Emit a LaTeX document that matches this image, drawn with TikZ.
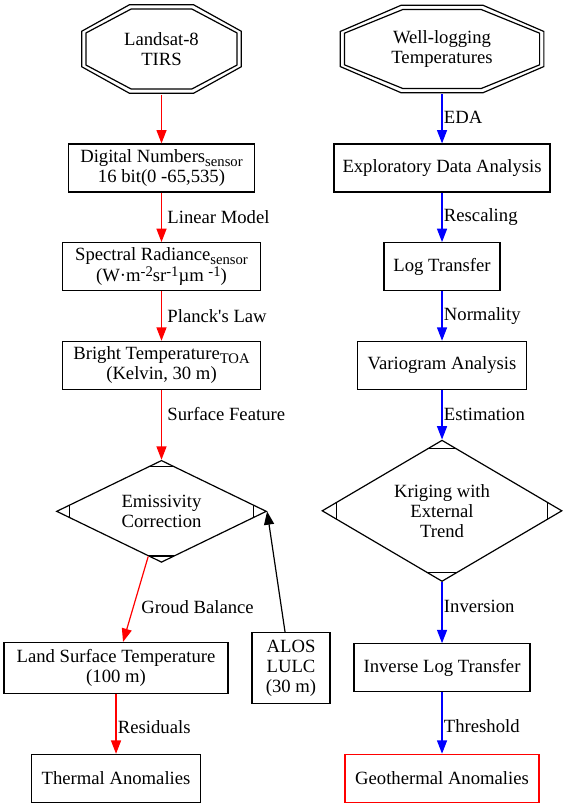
\documentclass[tikz,border=0pt]{standalone}
\usepackage{fontspec}
\setmainfont{Liberation Serif}
\usetikzlibrary{calc,shapes.geometric,arrows.meta}

% double octagon, drawn inside the node box
\newcommand{\octpath}[1]{%
  \coordinate (octnw) at ([shift={(#1,-#1)}]path picture bounding box.north west);
  \coordinate (octse) at ([shift={(-#1,#1)}]path picture bounding box.south east);
  \draw[line width=0.9pt] ($(octnw)!0.3!(octnw -| octse)$) -- ($(octnw)!0.7!(octnw -| octse)$)
    -- ($(octnw -| octse)!0.3!(octse)$) -- ($(octnw -| octse)!0.7!(octse)$)
    -- ($(octse -| octnw)!0.7!(octse)$) -- ($(octse -| octnw)!0.3!(octse)$)
    -- ($(octnw)!0.7!(octse -| octnw)$) -- ($(octnw)!0.3!(octse -| octnw)$) -- cycle;}

% corner ticks of the Mdiamond
\newcommand{\mticks}{%
  \coordinate (mdnw) at (path picture bounding box.north west);
  \coordinate (mdse) at (path picture bounding box.south east);
  \draw[line width=0.9pt] ($(mdnw)!0.06!(mdse -| mdnw)$) -- ($(mdnw -| mdse)!0.06!(mdse)$);
  \draw[line width=0.9pt] ($(mdnw)!0.94!(mdse -| mdnw)$) -- ($(mdnw -| mdse)!0.94!(mdse)$);
  \draw[line width=0.9pt] ($(mdnw)!0.06!(mdnw -| mdse)$) -- ($(mdse -| mdnw)!0.06!(mdse)$);
  \draw[line width=0.9pt] ($(mdnw)!0.94!(mdnw -| mdse)$) -- ($(mdse -| mdnw)!0.94!(mdse)$);}

% sub- and superscripts as the labels print them
\newcommand{\lowtxt}[1]{\raisebox{-3pt}{\fontsize{11pt}{11pt}\selectfont #1}}
\newcommand{\hightxt}[1]{\raisebox{4pt}{\fontsize{11pt}{11pt}\selectfont #1}}

\begin{document}
\begin{tikzpicture}[x=0.75pt, y=-0.75pt, node distance=74pt, line width=0.9pt, >={Triangle[length=10pt, width=7.5pt]}, font=\fontsize{14pt}{15pt}\selectfont, block/.style={rectangle, draw, minimum height=36pt, inner xsep=6pt, inner ysep=2pt, align=center}, dbloct/.style={rectangle, fill=white, inner sep=0pt, align=center, path picture={\octpath{0.5pt}\octpath{3.7pt}}}, mdia/.style={diamond, draw, aspect=2, inner sep=0pt, align=center, path picture={\mticks}}, lbl/.style={anchor=west, inner sep=1pt, text=black}]

  \useasboundingbox (0,0) rectangle (567,808);

  % Landsat branch
  \node[dbloct, minimum width=120.75pt, minimum height=67.5pt] (landsat) at (161.5,49) {Landsat-8\\TIRS};
  \node[block, below of=landsat, node distance=89.25pt, minimum width=140pt] (dn) {Digital Numbers\lowtxt{sensor}\\16 bit(0 -65,535)};
  \node[block, below of=dn, minimum width=148.5pt] (sr) {Spectral Radiance\lowtxt{sensor}\\[1pt](W·m\hightxt{-2}sr\hightxt{-1}µm \hightxt{-1})};
  \node[block, below of=sr, minimum width=148.5pt] (bt) {Bright Temperature\lowtxt{TOA}\\(Kelvin, 30 m)};
  \node[mdia, below of=bt, node distance=109.5pt, minimum width=157.5pt, minimum height=76.5pt] (emis) {Emissivity\\Correction};
  \node[block, below of=emis, node distance=117.4pt, xshift=-34.1pt, minimum width=168pt, minimum height=38pt] (lst) {Land Surface Temperature\\(100 m)};
  \node[block, right of=lst, node distance=131.25pt, minimum width=58.5pt, minimum height=53pt] (alos) {ALOS\\LULC\\(30 m)};
  \node[block, below of=lst, node distance=82.9pt, minimum width=127pt] (thermal) {Thermal Anomalies};

  % well-logging branch
  \node[dbloct, right of=landsat, node distance=210.4pt, minimum width=153.75pt, minimum height=66.75pt] (well) {Well-logging\\Temperatures};
  \node[block, below of=well, node distance=89.25pt, minimum width=162pt] (eda) {Exploratory Data Analysis};
  \node[block, below of=eda, minimum width=87pt] (logt) {Log Transfer};
  \node[block, below of=logt, minimum width=127pt] (vario) {Variogram Analysis};
  \node[mdia, below of=vario, node distance=109.1pt, minimum width=180pt, minimum height=106pt] (krig) {Kriging with\\External\\Trend};
  \node[block, below of=krig, node distance=117.75pt, minimum width=132pt] (invlog) {Inverse Log Transfer};
  \node[block, below of=invlog, node distance=82.9pt, minimum width=145.5pt, draw=red] (geo) {Geothermal Anomalies};

  \draw[->, red] (landsat) -- (dn);
  \draw[->, red] (dn) -- node[lbl, xshift=3pt] {Linear Model} (sr);
  \draw[->, red] (sr) -- node[lbl, xshift=3pt] {Planck\textquotesingle s Law} (bt);
  \draw[->, red] (bt) -- node[lbl, xshift=3pt, pos=0.34] {Surface Feature} (emis);
  \draw[->, red] (emis) -- node[lbl, xshift=4.5pt, pos=0.59] {Groud Balance} ([xshift=5.25pt]lst.north);
  \draw[->] ([xshift=-4.5pt]alos.north) -- (emis.east);
  \draw[->, red] (lst) -- node[lbl, pos=0.55] {Residuals} (thermal);

  \draw[->, blue] (well) -- node[lbl, pos=0.48] {EDA} (eda);
  \draw[->, blue] (eda) -- node[lbl] {Rescaling} (logt);
  \draw[->, blue] (logt) -- node[lbl] {Normality} (vario);
  \draw[->, blue] (vario) -- node[lbl] {Estimation} (krig);
  \draw[->, blue] (krig) -- node[lbl, pos=0.4] {Inversion} (invlog);
  \draw[->, blue] (invlog) -- node[lbl, pos=0.55] {Threshold} (geo);
\end{tikzpicture}
\end{document}
